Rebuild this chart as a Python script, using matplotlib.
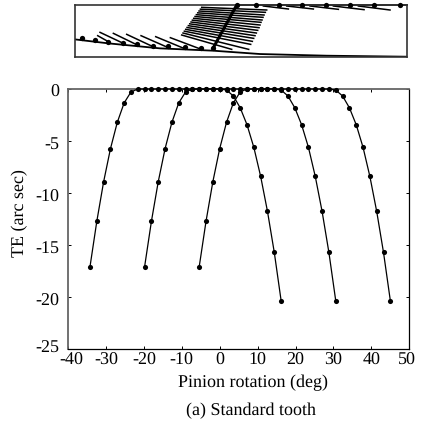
import matplotlib
matplotlib.use("Agg")
import matplotlib.pyplot as plt
from matplotlib.transforms import ScaledTranslation

plt.rcParams['font.family'] = ['Liberation Serif', 'DejaVu Serif']
plt.rcParams['text.hinting'] = 'none'

# Transmission error curves
te = [-17.07, -12.7, -8.9, -5.73, -3.2, -1.34, -0.29, 0, 0, 0, 0, 0, 0, 0, 0, 0, 0, 0, 0, 0,
      -0.1, -0.67, -1.8, -3.43, -5.6, -8.39, -11.75, -15.7, -20.33]
pos1 = [-34.2, -32.4, -30.6, -28.8, -27.0, -25.2, -23.4, -21.6, -19.8, -18.0, -16.2, -14.4, -12.6, -10.8, -9.0,
        -7.2, -5.4, -3.6, -1.8, 0.0, 1.8, 3.6, 5.4, 7.2, 9.0, 10.8, 12.6, 14.4, 16.2]
pos2 = [-19.8, -18.0, -16.2, -14.4, -12.6, -10.8, -9.0, -7.2, -5.4, -3.6, -1.8, 0.0, 1.8, 3.6, 5.4,
        7.2, 9.0, 10.8, 12.6, 14.4, 16.2, 18.0, 19.8, 21.6, 23.4, 25.2, 27.0, 28.8, 30.6]
pos3 = [-5.4, -3.6, -1.8, 0.0, 1.8, 3.6, 5.4, 7.2, 9.0, 10.8, 12.6, 14.4, 16.2, 18.0, 19.8,
        21.6, 23.4, 25.2, 27.0, 28.8, 30.6, 32.4, 34.2, 36.0, 37.8, 39.6, 41.4, 43.2, 45.0]
xticks = [-40, -30, -20, -10, 0, 10, 20, 30, 40, 50]
yticks = [0, -5, -10, -15, -20, -25]

# Tooth diagram (schematic units)
profile_x = [44, 145, 300, 460, 600, 800, 1040]
profile_y = [118, 130, 145, 152, 162, 167, 170]
flank_x = [460, 530]
flank_y = [143, 15]
top_x = [530, 1040]
top_y = [15, 15]
dots_x = [66, 104, 145, 188, 232, 279, 325, 374, 424, 460, 530, 588, 656, 726, 797, 870, 943, 1019]
dots_y = [113, 120, 125, 129, 132, 137, 139, 142, 144, 143, 16, 16, 16, 16, 16, 16, 16, 16]
flank_hatch_x0 = [425, 421, 417, 413, 409, 405, 401, 397, 393, 389, 385, 381, 377, 373, 369, 365]
flank_hatch_y0 = [22, 27.5, 33, 38.5, 44, 49.5, 55, 60.5, 66, 71.5, 77, 82.5, 88, 93.5, 99, 105]
flank_hatch_x1 = [620, 616, 612, 609, 606, 603, 600, 597, 593, 589, 585, 581, 577, 572, 566, 515]
flank_hatch_y1 = [30, 37, 45, 52, 60, 67, 75, 83, 91, 99, 107, 115, 124, 133, 148, 148]
root_hatch_x0 = [120, 113, 160, 200, 243, 287, 331]
root_hatch_y0 = [97, 107, 100, 103, 107, 110, 113]
root_hatch_x1 = [190, 145, 232, 279, 325, 374, 424]
root_hatch_y1 = [130, 125, 135, 140, 143, 146, 148]
tip_hatch_x0 = [610, 680, 750, 820, 895]
tip_hatch_y0 = [18, 18, 18, 18, 18]
tip_hatch_x1 = [685, 760, 835, 912, 990]
tip_hatch_y1 = [27, 27, 28, 29, 30]

W, H = 423, 426
fig = plt.figure(figsize=(W / 100, H / 100), dpi=100)

ax = fig.add_axes([68 / W, 1 - 349.3 / H, (409.3 - 68) / W, (349.3 - 89) / H])
for xs in (pos1, pos2, pos3):
    ax.plot(xs, te, color='black', lw=0.9, marker='o', ms=3.7, mew=0, clip_on=False, zorder=3)
ax.set_xlim(-40, 50)
ax.set_ylim(-25, 0)
ax.set_xticks(xticks)
ax.set_yticks(yticks)
ax.set_xticklabels([str(v) for v in xticks])
ax.set_yticklabels([str(v) for v in yticks])
ax.tick_params(direction='in', length=2.2, width=0.7, top=True, right=True, labelsize=13)
ax.tick_params(axis='x', pad=2.5)
ax.tick_params(axis='y', pad=6)
for side in ('left', 'top'):
    ax.spines[side].set_color('#666666')
    ax.spines[side].set_linewidth(1.3)
for side in ('right', 'bottom'):
    ax.spines[side].set_color('black')
    ax.spines[side].set_linewidth(0.9)

px = 1 / 100
for lab, v in zip(ax.get_yticklabels(), yticks):
    dy = 3 * px if v == -25 else -2 * px
    lab.set_transform(lab.get_transform() + ScaledTranslation(0, dy, fig.dpi_scale_trans))
for lab, v in zip(ax.get_xticklabels(), xticks):
    dx = {-40: 3, 50: -2}.get(v, 0) * px
    lab.set_transform(lab.get_transform() + ScaledTranslation(dx, 0, fig.dpi_scale_trans))

fig.text(252.5 / W, 1 - 383 / H, 'Pinion rotation (deg)', ha='center', va='center', fontsize=13)
fig.text(251 / W, 1 - 411 / H, '(a) Standard tooth', ha='center', va='center', fontsize=13)
fig.text(20 / W, 1 - 213 / H, 'TE (arc sec)', ha='center', va='center', rotation=90, fontsize=13)

ins = fig.add_axes([74.7 / W, 1 - 56.7 / H, (406.7 - 74.7) / W, (56.7 - 5) / H])
ins.set_xlim(44, 1040)
ins.set_ylim(170, 15)
ins.set_xticks([])
ins.set_yticks([])
for s in ins.spines.values():
    s.set_linewidth(1.2)
    s.set_color('#333333')
ins.plot(profile_x, profile_y, color='black', lw=1.3)
ins.plot(top_x, top_y, color='black', lw=1.2, clip_on=False)
ins.plot(flank_x, flank_y, color='black', lw=2.2, solid_capstyle='butt')
for x0s, y0s, x1s, y1s in ((flank_hatch_x0, flank_hatch_y0, flank_hatch_x1, flank_hatch_y1),
                           (root_hatch_x0, root_hatch_y0, root_hatch_x1, root_hatch_y1),
                           (tip_hatch_x0, tip_hatch_y0, tip_hatch_x1, tip_hatch_y1)):
    for a, b, c, d in zip(x0s, y0s, x1s, y1s):
        ins.plot([a, c], [b, d], color='black', lw=1.1)
ins.plot(dots_x, dots_y, ls='none', marker='o', ms=3.8, mew=0, color='black', clip_on=False, zorder=4)

fig.savefig('out.png', dpi=100)
